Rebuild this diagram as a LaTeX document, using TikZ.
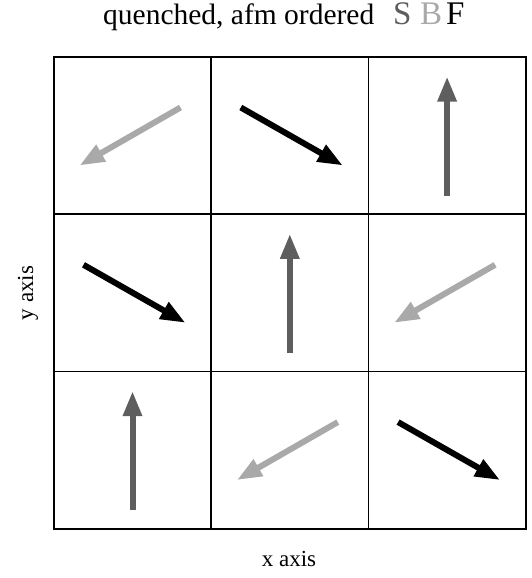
\documentclass[tikz,border=0pt]{standalone}
\usepackage{fontspec}
\setmainfont{Liberation Serif}
\usetikzlibrary{arrows.meta,positioning}
\definecolor{sgray}{HTML}{5E5E5E}
\definecolor{bgray}{HTML}{A9A9A9}
\tikzset{
  cellbox/.style={draw,line width=1.5pt,minimum size=157.3pt,inner sep=0pt,outer sep=0pt},
  spin/.style={line width=6pt,-{Triangle[length=25pt,width=18pt]}},
  spinS/.style={spin,sgray},
  spinB/.style={spin,bgray},
  spinF/.style={spin,black},
  axlbl/.style={inner sep=0pt,font=\fontsize{23}{27}\selectfont},
  ttl/.style={inner sep=0pt,anchor=base west,font=\fontsize{29.5}{34}\selectfont},
  key/.style={inner sep=0pt,anchor=base west,font=\fontsize{33}{38}\selectfont}
}
\begin{document}
\begin{tikzpicture}[x=1pt,y=-1pt]
  \useasboundingbox (0,0) rectangle (532,578);
  %% title and key
  \node[ttl] (title) at (103,25) {quenched, afm ordered};
  \node[key,text=sgray] (keyS) at (393,25) {S};
  \node[key,text=bgray] (keyB) at (420,25) {B};
  \node[key] (keyF) at (446,25) {F};
  %% 3x3 lattice
  \node[cellbox] (c00) at (132.5,135.5) {};
  \node[cellbox,right=0pt of c00] (c10) {};
  \node[cellbox,right=0pt of c10] (c20) {};
  \node[cellbox,below=0pt of c00] (c01) {};
  \node[cellbox,right=0pt of c01] (c11) {};
  \node[cellbox,right=0pt of c11] (c21) {};
  \node[cellbox,below=0pt of c01] (c02) {};
  \node[cellbox,right=0pt of c02] (c12) {};
  \node[cellbox,right=0pt of c12] (c22) {};
  %% spins
  \draw[spinB,shift={(c00)}] (48,-28) -- (-53,30);
  \draw[spinF,shift={(c10)}] (-49,-28) -- (53,30);
  \draw[spinS,shift={(c20)}] (0,60) -- (0,-59);
  \draw[spinF,shift={(c01)}] (-49,-28) -- (53,30);
  \draw[spinS,shift={(c11)}] (0,60) -- (0,-59);
  \draw[spinB,shift={(c21)}] (48,-28) -- (-53,30);
  \draw[spinS,shift={(c02)}] (0,60) -- (0,-59);
  \draw[spinB,shift={(c12)}] (48,-28) -- (-53,30);
  \draw[spinF,shift={(c22)}] (-49,-28) -- (53,30);
  %% axes
  \node[axlbl,anchor=base] (xlab) at (289,566) {x axis};
  \node[axlbl,rotate=90] (ylab) at (28,293) {y axis};
\end{tikzpicture}
\end{document}
